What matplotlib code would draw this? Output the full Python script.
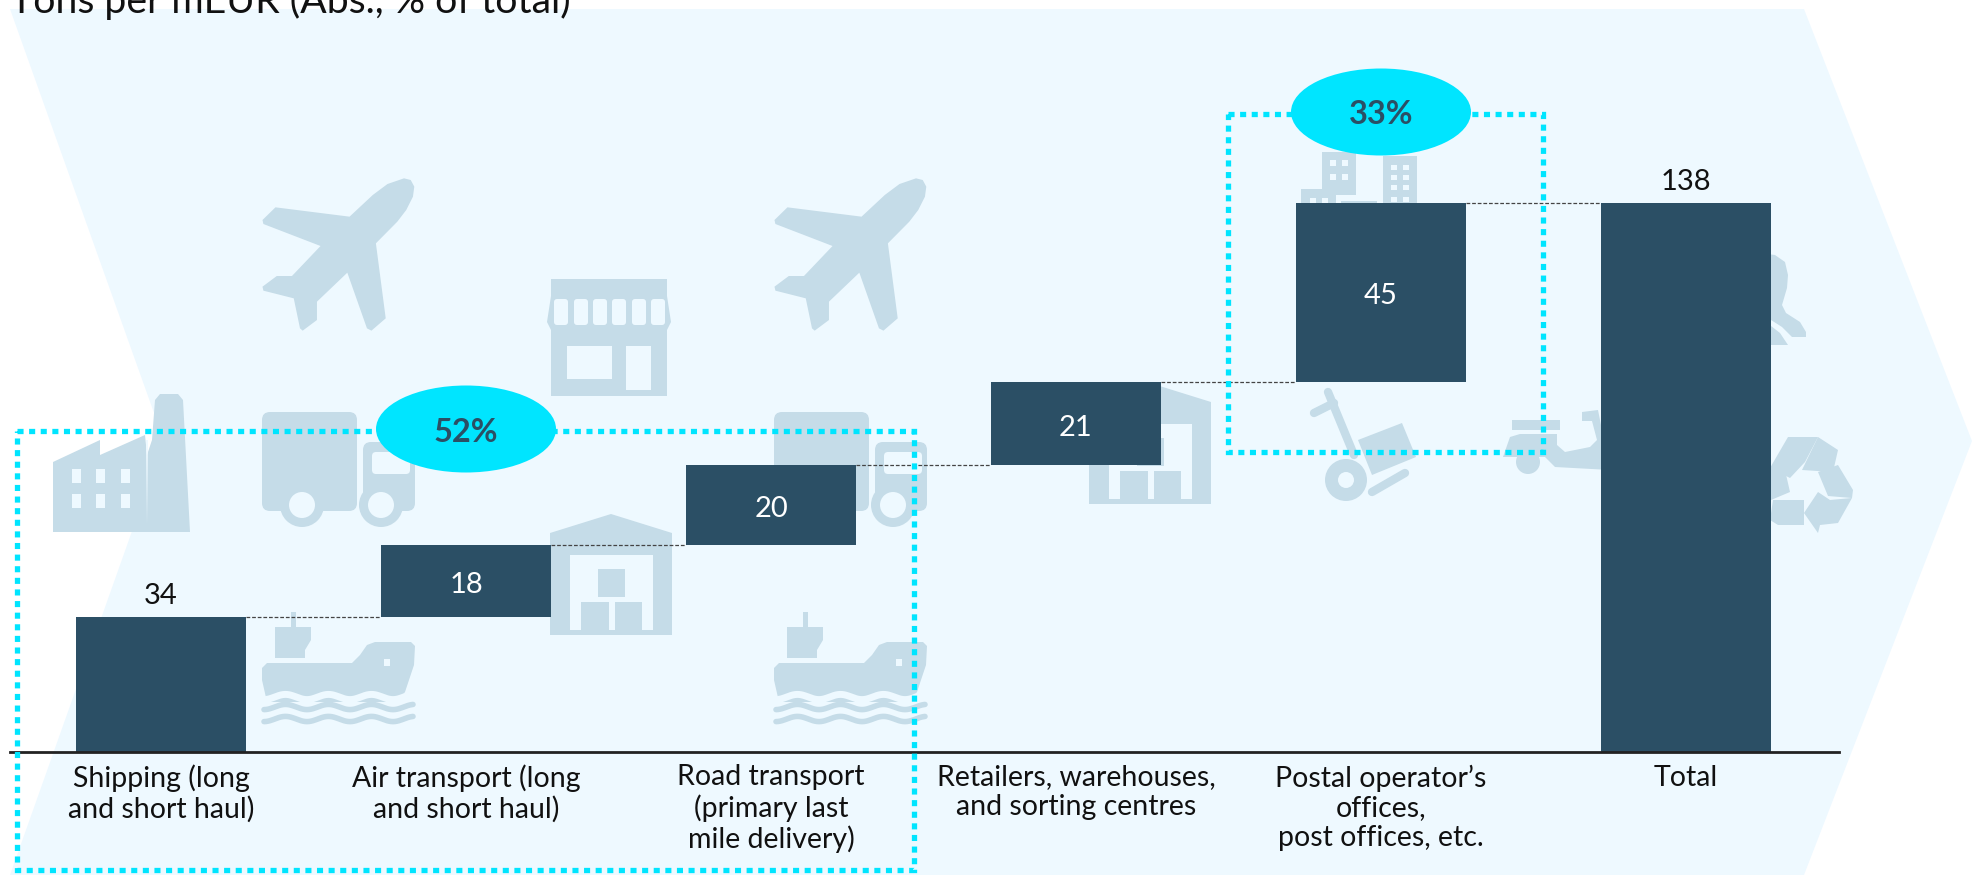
import numpy as np
import matplotlib
matplotlib.use("Agg")
import matplotlib.pyplot as plt
from matplotlib.patches import Polygon, Rectangle, Ellipse, FancyBboxPatch

plt.rcParams['font.family'] = ['Lato', 'DejaVu Sans']

categories = ["Shipping (long\nand short haul)", "Air transport (long\nand short haul)",
              "Road transport\n(primary last\nmile delivery)", "Retailers, warehouses,\nand sorting centres",
              "Postal operator\u2019s\noffices,\npost offices, etc.", "Total"]
values = [34, 18, 20, 21, 45, 138]
bottoms = [0, 34, 52, 72, 93, 0]
title = "Tons per mEUR (Abs., % of total)"
share_labels = ["52%", "33%"]

W, H = 1978, 875
BAR = "#2B4F65"
BG = "#EEF9FF"
ICON = "#C5DCE8"
CYAN = "#00E5FF"

fig = plt.figure(figsize=(W / 100, H / 100), dpi=100)


def pixel_axes(z):
    a = fig.add_axes([0, 0, 1, 1], zorder=z)
    a.set_xlim(0, W)
    a.set_ylim(H, 0)
    a.axis("off")
    a.patch.set_alpha(0)
    return a


back = pixel_axes(0)
top = pixel_axes(2)

# chevron behind everything
back.add_patch(Polygon([(10, 9), (1804, 9), (1972, 441), (1804, 875), (10, 875), (164, 441)], fc=BG, ec="none"))


def poly(pts, c=ICON, dx=0, dy=0):
    back.add_patch(Polygon([(x + dx, y + dy) for x, y in pts], fc=c, ec="none"))


def rect(x0, x1, y0, y1, c=ICON, dx=0, dy=0):
    back.add_patch(Rectangle((x0 + dx, y0 + dy), x1 - x0, y1 - y0, fc=c, ec="none"))


def circle(x, y, r, c=ICON):
    back.add_patch(Ellipse((x, y), 2 * r, 2 * r, fc=c, ec="none"))


plane_z = [(905, 535), (920, 540), (928, 560), (925, 590), (910, 630), (890, 665), (842, 730), (864, 955), (832, 992),
           (822, 985), (778, 818), (710, 905), (710, 960), (678, 992), (672, 985), (658, 895), (590, 872), (588, 860),
           (620, 828), (654, 828), (718, 738), (590, 672), (588, 660), (617, 622), (783, 650), (835, 585), (868, 552)]
plane = [(x / 2.24, y / 3) for x, y in plane_z]
for dx in [0, 512]:
    poly(plane, dx=dx)


def truck(dx):
    back.add_patch(FancyBboxPatch((262 + dx + 8, 412 + 8), 95 - 16, 99 - 16, boxstyle="round,pad=8", fc=ICON, ec="none"))
    back.add_patch(FancyBboxPatch((363 + dx + 8, 442 + 8), 52 - 16, 69 - 16, boxstyle="round,pad=8", fc=ICON, ec="none"))
    back.add_patch(FancyBboxPatch((376 + dx, 456), 30, 14, boxstyle="round,pad=4", fc=BG, ec="none"))
    rect(359, 363, 412, 530, BG, dx=dx)
    for cx in [302, 381]:
        circle(cx + dx, 505, 22)
        circle(cx + dx, 505, 13, BG)


truck(0)
truck(512)


def ship(dx):
    rect(291, 296, 612, 630, dx=dx)
    poly([(275, 627), (311, 627), (311, 640), (305, 650), (305, 658), (275, 658)], dx=dx)
    poly([(262, 668), (267, 663), (352, 663), (360, 655), (367, 645), (375, 642), (411, 642), (415, 646), (414, 665),
          (405, 692), (397, 702), (267, 702), (262, 680)], dx=dx)
    rect(384, 390, 659, 666, BG, dx=dx)
    for yw, col, w in [(697, BG, 5.0), (707, ICON, 4.0), (719, ICON, 4.0)]:
        xw = np.linspace(264, 413, 150)
        back.plot(xw + dx, yw + 2.6 * np.cos(2 * np.pi * (xw - 264) / 43), color=col, lw=w,
                  solid_capstyle="round")


ship(0)
ship(512)

# factory
poly([(53, 532), (53, 462), (100, 440), (100, 455), (145, 435), (147, 455), (152, 440), (155, 400), (160, 394),
      (178, 394), (183, 400), (190, 532)])
for wx in [72, 96, 121]:
    for wy in [469, 494]:
        rect(wx, wx + 9, wy, wy + 14, BG)
poly([(146, 440), (148, 440), (147, 525)], BG)

# shop
rect(551, 667, 279, 396)
poly([(551, 296), (667, 296), (671, 322), (667, 330), (551, 330), (547, 322)])
for sx in [554, 574, 593, 612, 632, 651]:
    back.add_patch(FancyBboxPatch((sx + 3, 302), 8, 20, boxstyle="round,pad=3", fc=BG, ec="none"))
rect(567, 612, 346, 379, BG)
rect(626, 651, 346, 390, BG)


def warehouse(dx, dy):
    poly([(550, 533), (611, 514), (672, 533), (672, 635), (550, 635)], dx=dx, dy=dy)
    rect(570, 653, 555, 630, BG, dx=dx, dy=dy)
    rect(598, 625, 569, 597, dx=dx, dy=dy)
    rect(581, 609, 602, 630, dx=dx, dy=dy)
    rect(615, 642, 602, 630, dx=dx, dy=dy)


warehouse(0, 0)
warehouse(539, -131)

# buildings above the postal bar
for x0, x1, y0, y1 in [(1322, 1356, 152, 195), (1301, 1336, 189, 210), (1383, 1417, 156, 210), (1341, 1377, 201, 210)]:
    rect(x0, x1, y0, y1)
for wx in [1330, 1342]:
    for wy in [160, 174]:
        rect(wx, wx + 6, wy, wy + 6, BG)
for wx in [1391, 1403]:
    for wy in [165, 175, 185, 197]:
        rect(wx, wx + 6, wy, wy + 5, BG)
for wx in [1310, 1322]:
    rect(wx, wx + 6, 198, 210, BG)

# hand truck
back.plot([1328, 1354], [392, 455], color=ICON, lw=6, solid_capstyle="round")
back.plot([1314, 1334], [413, 403], color=ICON, lw=6, solid_capstyle="round")
poly([(1358, 440), (1402, 423), (1416, 457), (1372, 475)])
circle(1346, 480, 21)
circle(1346, 480, 8, BG)
back.plot([1372, 1405], [492, 473], color=ICON, lw=6, solid_capstyle="round")

# scooter
rect(1512, 1560, 420, 430)
poly([(1503, 457), (1510, 437), (1520, 434), (1557, 434), (1557, 445), (1565, 452), (1575, 450), (1590, 447),
      (1597, 440), (1592, 421), (1582, 421), (1582, 412), (1598, 410), (1610, 470), (1555, 467), (1545, 457)])
circle(1528, 462, 12)

# person behind the total bar
poly([(1760, 253), (1775, 255), (1785, 262), (1788, 275), (1787, 288), (1782, 305), (1786, 313), (1800, 322),
      (1806, 332), (1806, 337), (1792, 337), (1782, 327), (1771, 320), (1760, 325)])
poly([(1771, 326), (1780, 333), (1788, 345), (1771, 345)])

# recycle sign
for pts in [[(1788, 437), (1818, 437), (1805, 462), (1790, 478), (1770, 468)],
            [(1818, 437), (1838, 450), (1833, 472), (1802, 470)],
            [(1838, 465), (1853, 490), (1852, 498), (1828, 496), (1818, 472)],
            [(1773, 500), (1804, 500), (1804, 525), (1778, 525), (1770, 520)],
            [(1818, 492), (1830, 500), (1852, 498), (1838, 523), (1820, 525), (1818, 533), (1804, 513)],
            [(1771, 468), (1785, 470), (1790, 492), (1771, 500)]]:
    poly(pts)

# bars, on their own axes so they use the value scale
ax = fig.add_axes([10 / W, (H - 752) / H, (1839 - 10) / W, 752 / H], zorder=1)
ax.patch.set_alpha(0)
xs = np.arange(len(values))
ax.set_xlim((10 - 161) / 305.0, (1839 - 161) / 305.0)
ax.set_ylim(0, 752 / 3.98)
ax.bar(xs, values, bottom=bottoms, width=0.557, color=BAR, linewidth=0)
for s in ["top", "left", "right"]:
    ax.spines[s].set_visible(False)
ax.spines["bottom"].set_linewidth(2)
ax.spines["bottom"].set_color("#222222")
ax.set_yticks([])
ax.set_xticks(xs)
ax.set_xticklabels(categories, fontsize=20.5, color="#111111", linespacing=1.16)
ax.tick_params(axis="x", length=0, pad=9)

# connectors between the steps
for i in range(len(values) - 1):
    level = bottoms[i] + values[i]
    ax.plot([i + 0.2785, i + 1 - 0.2785], [level, level], color="#444444", lw=0.9, ls=(0, (3, 1.5)))

for i, v in enumerate(values):
    if bottoms[i] == 0:
        ax.text(i, v + 2.0, str(v), ha="center", va="bottom", fontsize=21, color="#111111")
    else:
        ax.text(i, bottoms[i] + v / 2 - 1.0, str(v), ha="center", va="center", fontsize=21, color="white")

# dotted brackets and share bubbles
dots = (0, (1.15, 1.05))
top.add_patch(Rectangle((17, 431), 897, 439, fc="none", ec=CYAN, lw=3.8, ls=dots))
top.add_patch(Rectangle((1228, 114), 315, 338, fc="none", ec=CYAN, lw=3.8, ls=dots))
for (cx, cy), lab in zip([(466, 429), (1381, 112)], share_labels):
    top.add_patch(Ellipse((cx, cy), 180, 87, fc=CYAN, ec="none"))
    top.text(cx, cy + 3, lab, ha="center", va="center", fontsize=23.5, fontweight="bold", color=BAR)

top.text(10, 13, title, ha="left", va="baseline", fontsize=28.3, color="#111111", clip_on=False)

fig.savefig("out.png", dpi=100, facecolor="white")
